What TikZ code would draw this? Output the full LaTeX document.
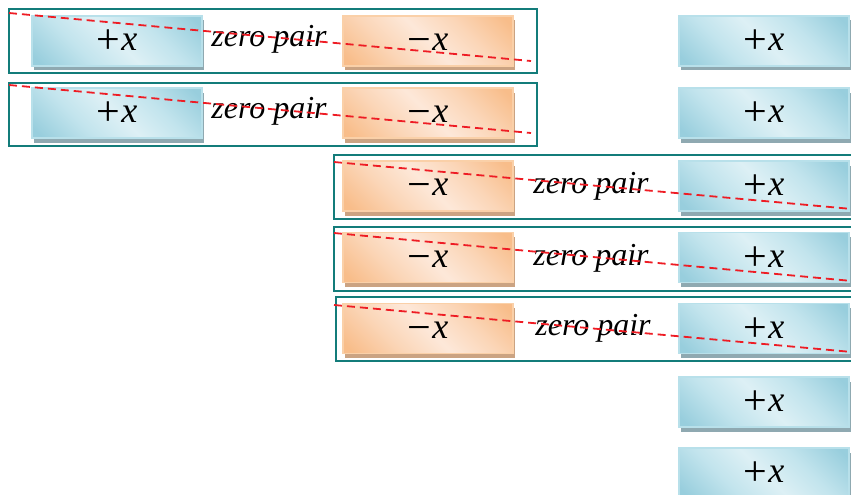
\documentclass[tikz,border=0pt]{standalone}
\usepackage{fontspec}
\setmainfont{Liberation Serif}
\usetikzlibrary{shadows}
\definecolor{bdark}{HTML}{98CEDD}
\definecolor{bmid}{HTML}{C2E4ED}
\definecolor{blight}{HTML}{DDF0F5}
\definecolor{bborder}{HTML}{B8E0EA}
\definecolor{bshadow}{HTML}{8FA9B1}
\definecolor{odark}{HTML}{F8BD8A}
\definecolor{omid}{HTML}{FBD6B8}
\definecolor{olight}{HTML}{FDE8D9}
\definecolor{oborder}{HTML}{FAD0A8}
\definecolor{oshadow}{HTML}{CBA382}
\definecolor{frameteal}{HTML}{137C7A}
\definecolor{dashred}{HTML}{EE1C24}
\pgfdeclareverticalshading{bshade}{100bp}{color(0bp)=(bdark); color(18bp)=(bdark); color(35bp)=(bmid); color(50bp)=(blight); color(65bp)=(bmid); color(82bp)=(bdark); color(100bp)=(bdark)}
\pgfdeclareverticalshading{oshade}{100bp}{color(0bp)=(odark); color(18bp)=(odark); color(35bp)=(omid); color(50bp)=(olight); color(65bp)=(omid); color(82bp)=(odark); color(100bp)=(odark)}
\tikzset{
  tile/.style={minimum width=170pt, minimum height=50pt, inner sep=0pt, line width=1.2pt,
    text height=19pt, text depth=0pt, font=\fontsize{36}{36}\selectfont},
  ptile/.style={tile, draw=bborder, shading=bshade, shading angle=-45,
    drop shadow={shadow xshift=2pt, shadow yshift=-4.5pt, fill=bshadow, opacity=1}},
  ntile/.style={tile, draw=oborder, shading=oshade, shading angle=-45,
    drop shadow={shadow xshift=2pt, shadow yshift=-4.5pt, fill=oshadow, opacity=1}},
  zp/.style={inner sep=0pt, font=\fontsize{32}{32}\selectfont\itshape},
  pairframe/.style={draw=frameteal, line width=2pt, inner sep=0pt},
  redline/.style={draw=dashred, line width=1.8pt, dash pattern=on 8pt off 5pt}
}
\newcommand{\px}{\raisebox{-3pt}{\fontsize{42}{42}\selectfont +}\kern1pt\textit{x}}
\newcommand{\mx}{\raisebox{-3pt}{\fontsize{42}{42}\selectfont −}\kern1pt\textit{x}}
\begin{document}
\begin{tikzpicture}[x=1pt,y=-1pt]
\clip (0,0) rectangle (851,495);
% frames
\node[pairframe, minimum width=528pt, minimum height=64pt] (f1) at (273,41) {};
\node[pairframe, minimum width=528pt, minimum height=63pt] (f2) at (273,114.5) {};
\node[pairframe, minimum width=522pt, minimum height=64pt] (f3) at (595,187) {};
\node[pairframe, minimum width=522pt, minimum height=64pt] (f4) at (595,259) {};
\node[pairframe, minimum width=520pt, minimum height=64pt] (f5) at (596,329) {};
% left +x
\node[ptile] (pl1) at (117,41) {\px};
\node[ptile] (pl2) at (117,113) {\px};
% -x
\node[ntile] (n1) at (428,41) {\mx};
\node[ntile] (n2) at (428,113) {\mx};
\node[ntile] (n3) at (428,186) {\mx};
\node[ntile] (n4) at (428,257.5) {\mx};
\node[ntile] (n5) at (428,328.5) {\mx};
% right +x
\node[ptile] (p1) at (764,41) {\px};
\node[ptile] (p2) at (764,113) {\px};
\node[ptile] (p3) at (764,186) {\px};
\node[ptile] (p4) at (764,257.5) {\px};
\node[ptile] (p5) at (764,328.5) {\px};
\node[ptile] (p6) at (764,402) {\px};
\node[ptile] (p7) at (764,473) {\px};
% zero pair labels
\node[zp] (z1) at (269,39) {zero pair};
\node[zp] (z2) at (269,111) {zero pair};
\node[zp] (z3) at (591,186) {zero pair};
\node[zp] (z4) at (591,258) {zero pair};
\node[zp] (z5) at (593,328) {zero pair};
% red dashed lines
\coordinate (r1a) at (9,13);   \coordinate (r1b) at (531,61);
\coordinate (r2a) at (9,85);   \coordinate (r2b) at (531,133);
\coordinate (r3a) at (334,162); \coordinate (r3b) at (852,209);
\coordinate (r4a) at (334,233); \coordinate (r4b) at (852,281);
\coordinate (r5a) at (334,305); \coordinate (r5b) at (852,352);
\draw[redline] (r1a) -- (r1b);
\draw[redline] (r2a) -- (r2b);
\draw[redline] (r3a) -- (r3b);
\draw[redline] (r4a) -- (r4b);
\draw[redline] (r5a) -- (r5b);
\end{tikzpicture}
\end{document}
